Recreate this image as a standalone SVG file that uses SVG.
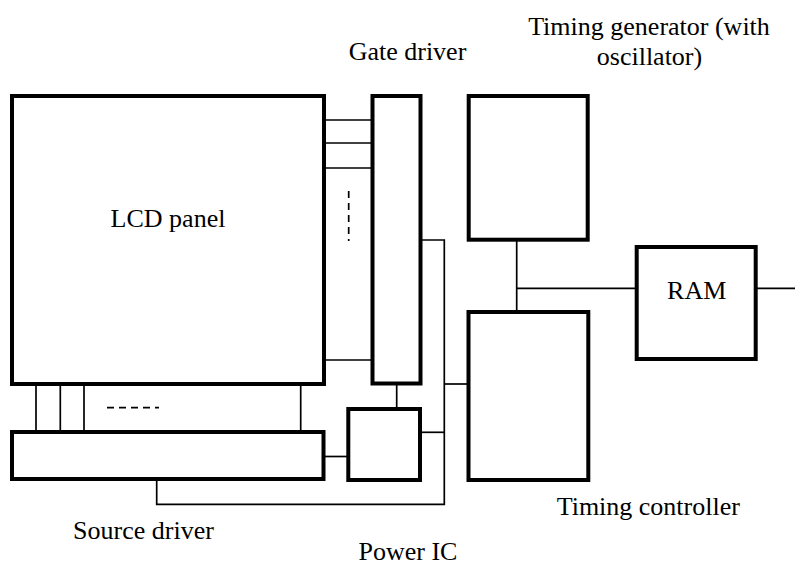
<svg xmlns="http://www.w3.org/2000/svg" width="795" height="565" viewBox="0 0 795 565">
  <style>
    .box { fill: #fff; stroke: #000; stroke-width: 4; }
    .wire { fill: none; stroke: #000; stroke-width: 1.7; }
    .dash { fill: none; stroke: #000; stroke-width: 1.7; stroke-dasharray: 7 5; }
    .label { font-family: 'Liberation Serif', 'DejaVu Serif', serif; font-size: 26px; fill: #000; text-anchor: middle; }
  </style>
  <rect width="795" height="565" fill="#fff"/>

  <!-- connectors -->
  <g id="connectors">
    <!-- panel rows to gate driver -->
    <line class="wire" x1="324" y1="120" x2="372" y2="120"/>
    <line class="wire" x1="324" y1="143" x2="372" y2="143"/>
    <line class="wire" x1="324" y1="168" x2="372" y2="168"/>
    <line class="wire" x1="324" y1="360" x2="372" y2="360"/>
    <line class="dash" x1="348.7" y1="191" x2="348.7" y2="241"/>
    <!-- panel columns to source driver -->
    <line class="wire" x1="36" y1="384" x2="36" y2="432"/>
    <line class="wire" x1="60.3" y1="384" x2="60.3" y2="432"/>
    <line class="wire" x1="84" y1="384" x2="84" y2="432"/>
    <line class="wire" x1="300.7" y1="384" x2="300.7" y2="432"/>
    <line class="dash" x1="107" y1="407.7" x2="159" y2="407.7"/>
    <!-- gate driver to power IC -->
    <line class="wire" x1="396.7" y1="384" x2="396.7" y2="409"/>
    <!-- source driver to power IC -->
    <line class="wire" x1="323.5" y1="456.5" x2="348.3" y2="456.5"/>
    <!-- control bus -->
    <polyline class="wire" points="420.5,240 444.3,240 444.3,504.3 156.7,504.3 156.7,479"/>
    <line class="wire" x1="420" y1="432.3" x2="444.3" y2="432.3"/>
    <line class="wire" x1="444.3" y1="384" x2="468.5" y2="384"/>
    <!-- timing generator / controller to RAM -->
    <line class="wire" x1="516.7" y1="240" x2="516.7" y2="312"/>
    <line class="wire" x1="516.7" y1="288.3" x2="636.7" y2="288.3"/>
    <line class="wire" x1="755.7" y1="288.3" x2="795" y2="288.3"/>
  </g>

  <g id="lcd-panel">
    <rect class="box" x="12" y="96" width="312" height="288"/>
    <text class="label" x="168" y="226.7">LCD panel</text>
  </g>

  <g id="gate-driver">
    <rect class="box" x="372.5" y="96" width="48" height="287.5"/>
    <text class="label" x="407.5" y="60">Gate driver</text>
  </g>

  <g id="source-driver">
    <rect class="box" x="12" y="432" width="311.5" height="47"/>
    <text class="label" x="143.5" y="539.3">Source driver</text>
  </g>

  <g id="power-ic">
    <rect class="box" x="348.3" y="409" width="71.7" height="71"/>
    <text class="label" x="408" y="560">Power IC</text>
  </g>

  <g id="timing-generator">
    <rect class="box" x="468.7" y="96" width="119" height="143.7"/>
    <text class="label" x="649" y="35">Timing generator (with</text>
    <text class="label" x="649.5" y="65">oscillator)</text>
  </g>

  <g id="timing-controller">
    <rect class="box" x="468.5" y="312" width="119.8" height="168"/>
    <text class="label" x="648.3" y="515">Timing controller</text>
  </g>

  <g id="ram">
    <rect class="box" x="636.7" y="247" width="119" height="112"/>
    <text class="label" x="696.7" y="299">RAM</text>
  </g>
</svg>
